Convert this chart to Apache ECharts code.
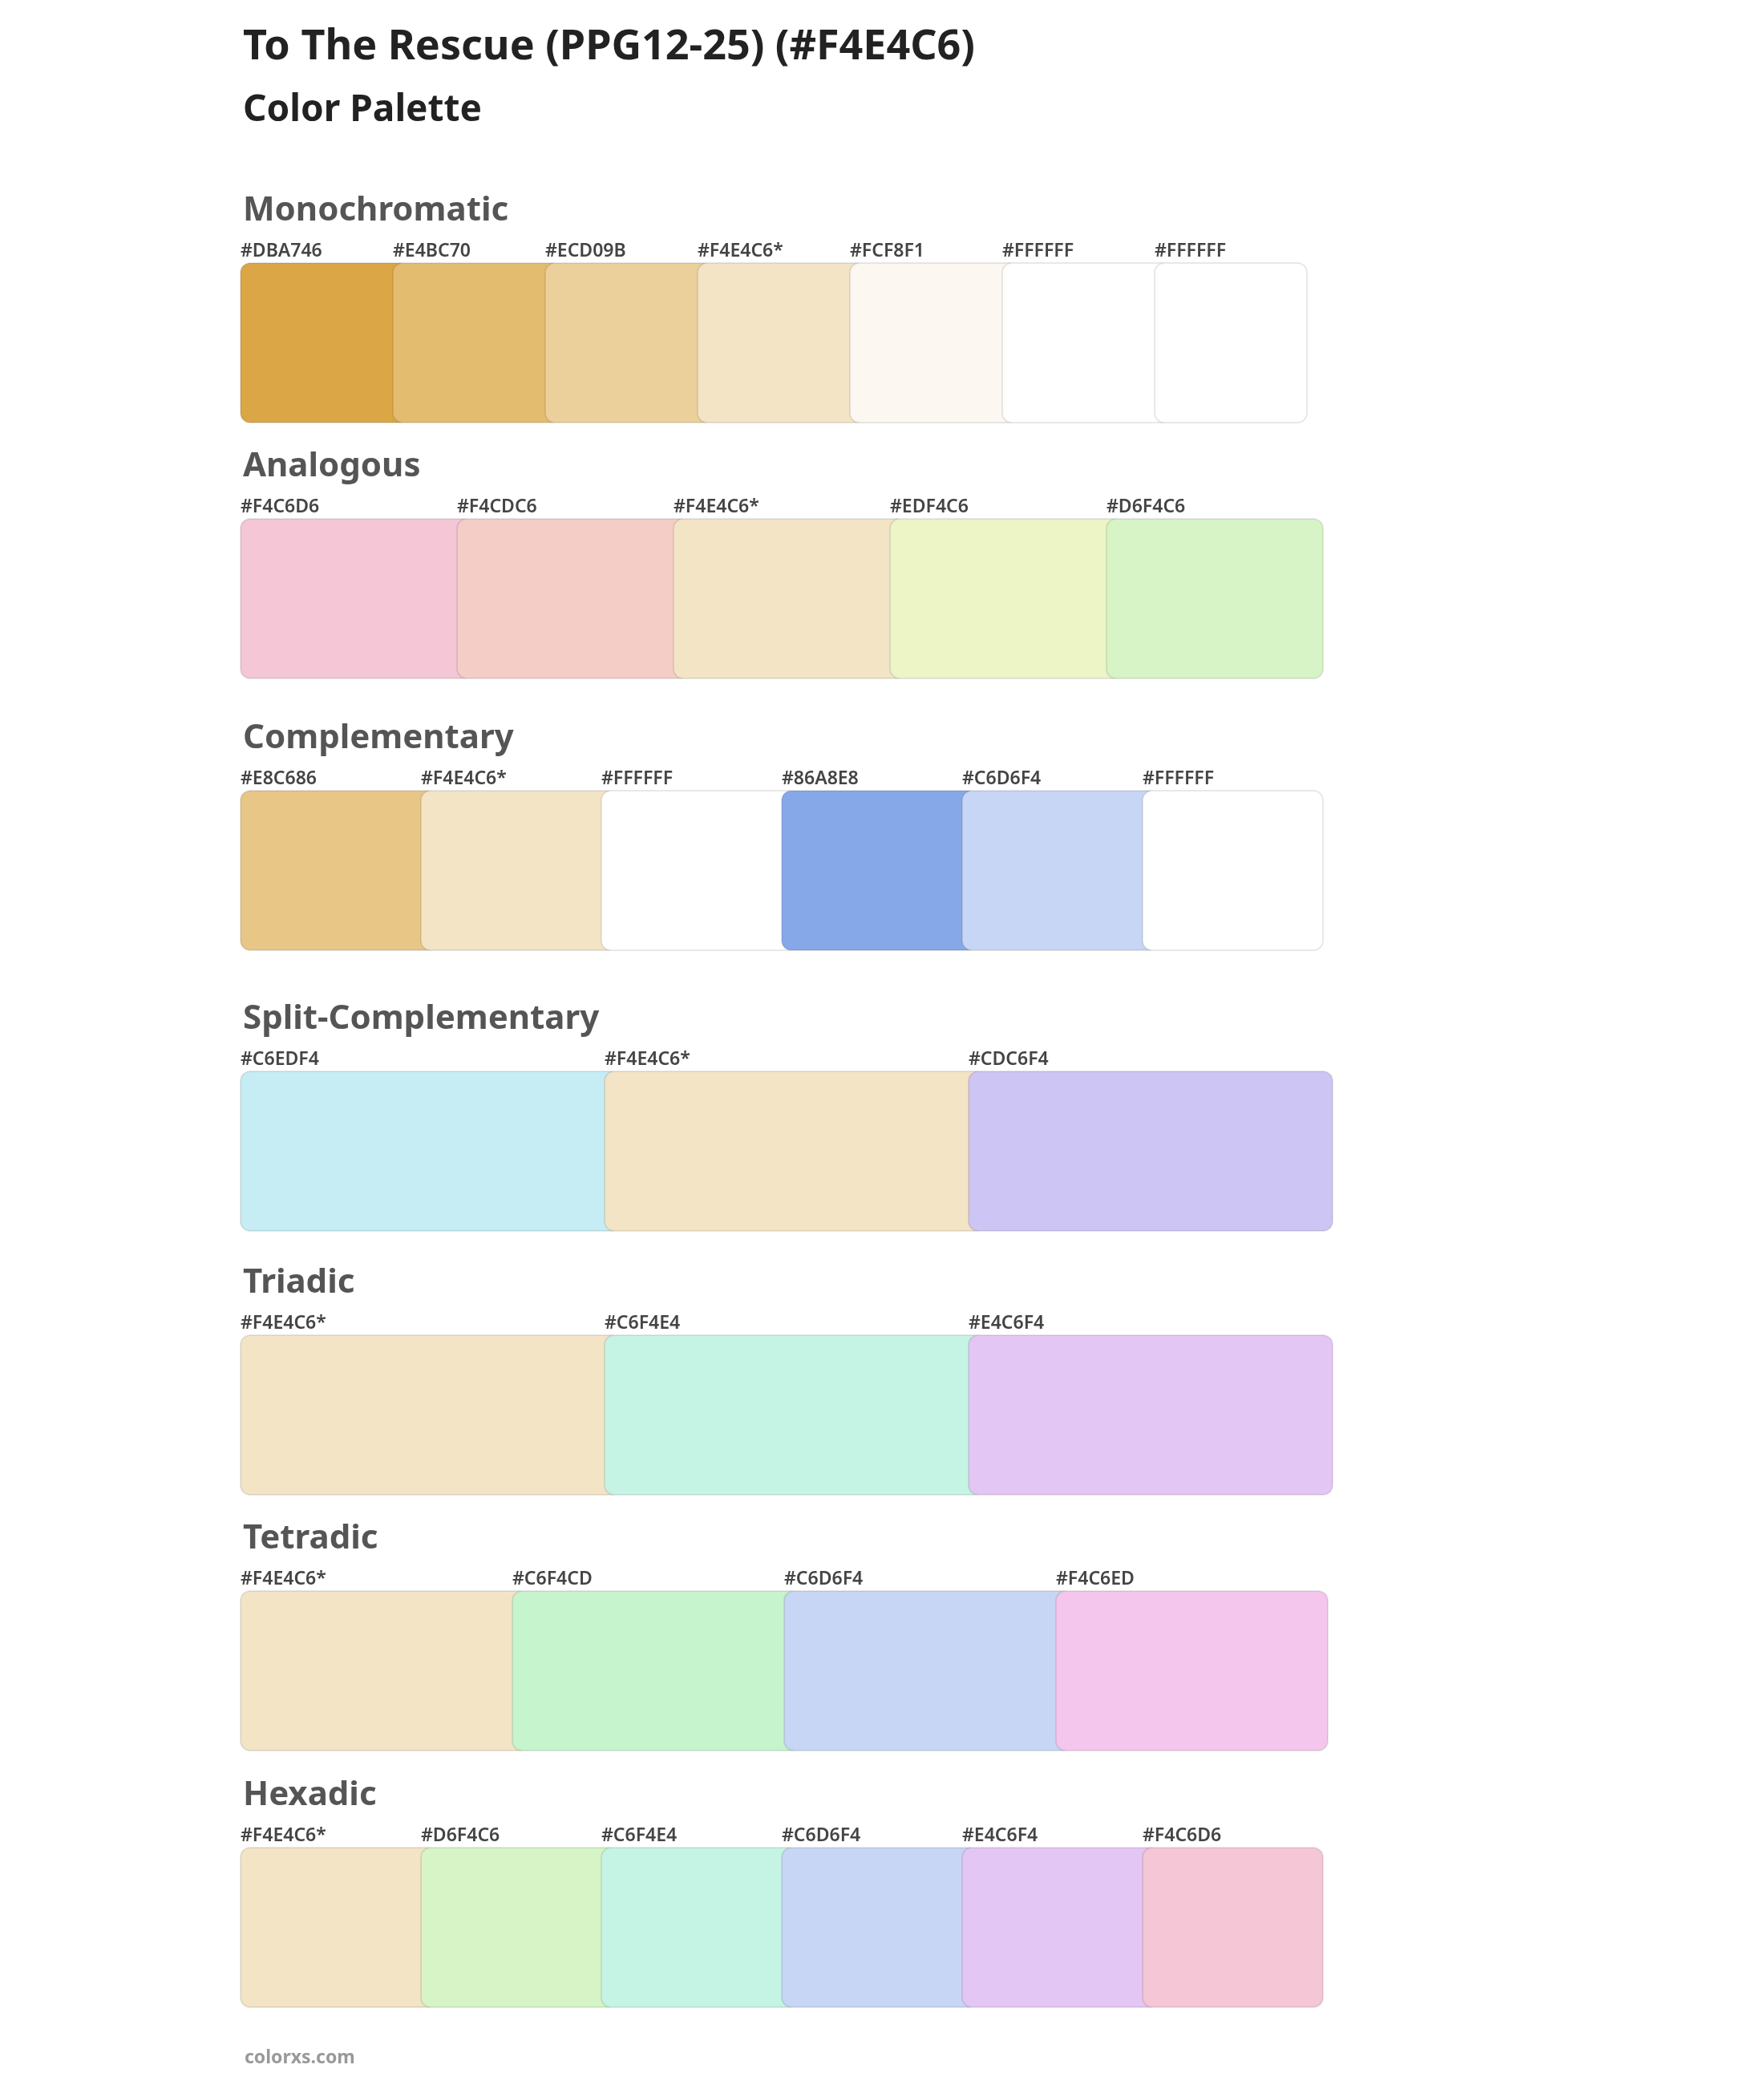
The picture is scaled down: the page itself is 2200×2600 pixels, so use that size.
<!DOCTYPE html>
<html>
<head>
<meta charset="utf-8">
<script src="https://cdn.jsdelivr.net/npm/echarts@6/dist/echarts.min.js"></script>
<style>html,body{margin:0;background:#fff}#main{width:2200px;height:2600px}</style>
</head>
<body>
<div id="main"></div>
<script>
// palette rows
const monochromatic = ['#DBA746', '#E4BC70', '#ECD09B', '#F4E4C6*', '#FCF8F1', '#FFFFFF', '#FFFFFF'];
const analogous = ['#F4C6D6', '#F4CDC6', '#F4E4C6*', '#EDF4C6', '#D6F4C6'];
const complementary = ['#E8C686', '#F4E4C6*', '#FFFFFF', '#86A8E8', '#C6D6F4', '#FFFFFF'];
const splitComplementary = ['#C6EDF4', '#F4E4C6*', '#CDC6F4'];
const triadic = ['#F4E4C6*', '#C6F4E4', '#E4C6F4'];
const tetradic = ['#F4E4C6*', '#C6F4CD', '#C6D6F4', '#F4C6ED'];
const hexadic = ['#F4E4C6*', '#D6F4C6', '#C6F4E4', '#C6D6F4', '#E4C6F4', '#F4C6D6'];

const rows = [
    { name: 'Monochromatic', colors: monochromatic, step: 190, top: 328, head: 265 },
    { name: 'Analogous', colors: analogous, step: 270, top: 647, head: 584 },
    { name: 'Complementary', colors: complementary, step: 225, top: 986, head: 923 },
    { name: 'Split-Complementary', colors: splitComplementary, step: 454, top: 1336, head: 1273 },
    { name: 'Triadic', colors: triadic, step: 454, top: 1665, head: 1602 },
    { name: 'Tetradic', colors: tetradic, step: 339, top: 1984, head: 1921 },
    { name: 'Hexadic', colors: hexadic, step: 225, top: 2304, head: 2241 }
];

const chart = echarts.init(document.getElementById('main'));
const FONT = '"Noto Sans", sans-serif';
const LEFT = 300, HEIGHT = 199, OVERLAP = 20;

let titles = [
    { text: 'To The Rescue (PPG12-25) (#F4E4C6)', left: LEFT - 2, top: 28,
      textStyle: { fontFamily: FONT, fontSize: 52, fontWeight: 'bold', color: '#222' } },
    { text: 'Color Palette', left: LEFT - 2, top: 110,
      textStyle: { fontFamily: FONT, fontSize: 46, fontWeight: 'bold', color: '#222' } },
    { text: 'colorxs.com', left: LEFT, top: 2550,
      textStyle: { fontFamily: FONT, fontSize: 23, fontWeight: 'bold', color: '#999' } }
];
let grids = [], xAxes = [], yAxes = [], series = [];

rows.forEach((r, k) => {
    titles.push({ text: r.name, left: LEFT - 2, top: r.head - 28,
        textStyle: { fontFamily: FONT, fontSize: 42, fontWeight: 'bold', color: '#555' } });
    grids.push({ left: LEFT, top: r.top, width: r.step * r.colors.length, height: HEIGHT });
    xAxes.push({ type: 'value', gridIndex: k, min: 0, max: r.colors.length, show: false });
    yAxes.push({ type: 'value', gridIndex: k, min: 0, max: 1, show: false });
    series.push({
        type: 'custom',
        xAxisIndex: k, yAxisIndex: k,
        data: r.colors.map((c, i) => [i, c]),
        renderItem: function (params, api) {
            const i = api.value(0);
            const label = r.colors[i];
            const hex = label.replace('*', '');
            const p0 = api.coord([i, 1]);
            const p1 = api.coord([i + 1, 0]);
            const w = p1[0] - p0[0] + (i < r.colors.length - 1 ? OVERLAP : 0);
            return {
                type: 'group',
                children: [
                    { type: 'rect',
                      shape: { x: p0[0], y: p0[1], width: w, height: p1[1] - p0[1], r: 12 },
                      style: { fill: hex, stroke: 'rgba(0,0,0,0.09)', lineWidth: 2 } },
                    { type: 'text',
                      style: { x: p0[0], y: p0[1] - 15, text: label, fill: '#444',
                               font: '600 23px "Noto Sans", sans-serif', textVerticalAlign: 'middle' } }
                ]
            };
        }
    });
});

chart.setOption({
    animation: false,
    title: titles,
    grid: grids,
    xAxis: xAxes,
    yAxis: yAxes,
    series: series
});
</script>
</body>
</html>
